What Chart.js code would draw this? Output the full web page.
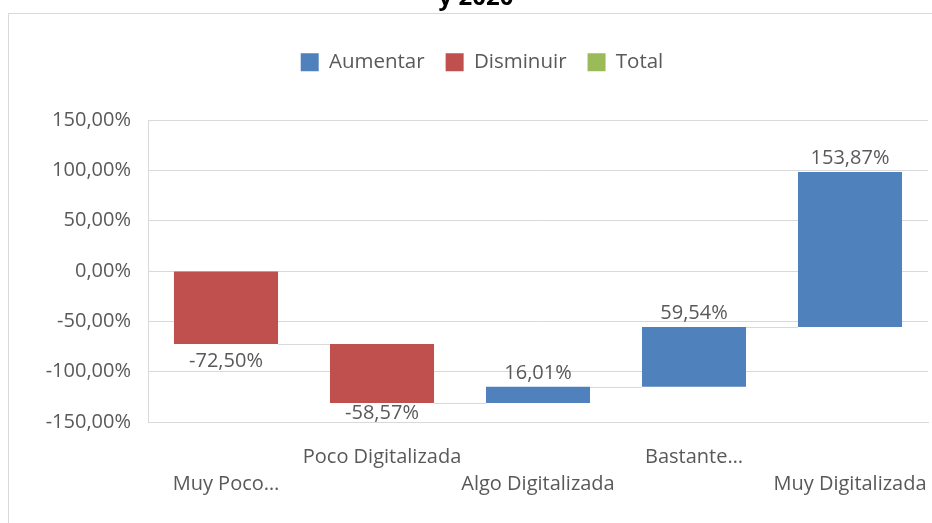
<!DOCTYPE html>
<html>
<head>
<meta charset="utf-8">
<script src="https://cdn.jsdelivr.net/npm/chart.js@4.4.1/dist/chart.umd.min.js"></script>
<style>
html,body{margin:0;padding:0;background:#ffffff;}
#wrap{position:relative;width:932px;height:523px;overflow:hidden;}
canvas{display:block;}
</style>
</head>
<body>
<div id="wrap"><canvas id="c" width="932" height="523"></canvas></div>
<script>
// ---- data ----
const categories = ['Muy Poco…', 'Poco Digitalizada', 'Algo Digitalizada', 'Bastante…', 'Muy Digitalizada'];
const changes = [-72.50, -58.57, 16.01, 59.54, 153.87];
const seriesNames = ['Aumentar', 'Disminuir', 'Total'];
const yTickMin = -150;
const yTickMax = 150;
const yTickStep = 50;
const titleText = 'y 2020';

// ---- derived waterfall ranges ----
const starts = [];
const ends = [];
let running = 0;
changes.forEach(v => { starts.push(running); running += v; ends.push(running); });

const upData = changes.map((v, i) => v >= 0 ? [starts[i], ends[i]] : null);
const downData = changes.map((v, i) => v < 0 ? [starts[i], ends[i]] : null);
const totalData = changes.map(() => null);

const fmt = v => Number(v).toFixed(2).replace('.', ',') + '%';

const xLabels = categories.map((c, i) => i % 2 === 0 ? ['', c] : [c, '']);

const GRID = '#d9d9d9';
const TXT = '#595959';
const FONT = "'Open Sans', 'Noto Sans', sans-serif";

function patchLegend(chart) {
  const lg = chart.legend;
  if (!lg || lg._patched) return;
  const orig = lg.fit;
  lg.fit = function () { orig.call(this); this.height = 89; };
  lg._patched = true;
}

const deco = {
  id: 'deco',
  beforeInit(chart) { patchLegend(chart); },
  beforeUpdate(chart) { patchLegend(chart); },
  beforeDraw(chart) {
    const ctx = chart.ctx;
    ctx.save();
    ctx.strokeStyle = GRID;
    ctx.lineWidth = 1;
    ctx.strokeRect(8.5, 13.5, 1200, 800);
    ctx.fillStyle = '#000000';
    ctx.font = "bold 24px " + FONT;
    ctx.textAlign = 'center';
    ctx.textBaseline = 'alphabetic';
    ctx.fillText(titleText, 476, 5);
    ctx.restore();
  },
  beforeDatasetsDraw(chart) {
    const ctx = chart.ctx;
    const y = chart.scales.y;
    ctx.save();
    ctx.strokeStyle = GRID;
    ctx.lineWidth = 1;
    for (let i = 0; i < changes.length - 1; i++) {
      const a = chart.getDatasetMeta(changes[i] >= 0 ? 0 : 1).data[i];
      const b = chart.getDatasetMeta(changes[i + 1] >= 0 ? 0 : 1).data[i + 1];
      const py = Math.round(y.getPixelForValue(ends[i])) + 0.5;
      ctx.beginPath();
      ctx.moveTo(a.x + a.width / 2, py);
      ctx.lineTo(b.x - b.width / 2, py);
      ctx.stroke();
    }
    ctx.restore();
  },
  afterDatasetsDraw(chart) {
    const ctx = chart.ctx;
    const y = chart.scales.y;
    const area = chart.chartArea;
    ctx.save();
    ctx.fillStyle = TXT;
    ctx.font = "20px " + FONT;
    ctx.textAlign = 'center';
    ctx.textBaseline = 'middle';
    for (let i = 0; i < changes.length; i++) {
      const el = chart.getDatasetMeta(changes[i] >= 0 ? 0 : 1).data[i];
      const pe = y.getPixelForValue(ends[i]);
      let cy;
      if (changes[i] >= 0) cy = pe - 13.5;
      else cy = Math.min(pe + 17, area.bottom - 9);
      ctx.fillText(fmt(changes[i]), el.x, cy);
    }
    ctx.restore();
  }
};

Chart.defaults.font.family = FONT;
Chart.defaults.color = TXT;

new Chart(document.getElementById('c'), {
  type: 'bar',
  data: {
    labels: xLabels,
    datasets: [
      { label: seriesNames[0], data: upData, backgroundColor: '#4f81bd', borderWidth: 0, grouped: false },
      { label: seriesNames[1], data: downData, backgroundColor: '#c0504d', borderWidth: 0, grouped: false },
      { label: seriesNames[2], data: totalData, backgroundColor: '#9bbb59', borderWidth: 0, grouped: false }
    ]
  },
  options: {
    responsive: false,
    animation: false,
    barPercentage: 0.667,
    categoryPercentage: 1,
    layout: { padding: { top: 31, left: 36, right: 4, bottom: 0 } },
    plugins: {
      legend: {
        position: 'top',
        align: 'center',
        labels: { boxWidth: 18, boxHeight: 18, padding: 21, color: TXT, font: { size: 20.5 } }
      },
      title: { display: false },
      tooltip: { enabled: false }
    },
    scales: {
      x: {
        grid: { display: false, drawTicks: false },
        border: { display: true, color: GRID, width: 1 },
        ticks: { color: TXT, font: { size: 20, lineHeight: 1.35 }, padding: 21.5, maxRotation: 0, minRotation: 0, autoSkip: false },
        afterFit(scale) { scale.height = 101; scale.paddingLeft = 0; scale.paddingRight = 0; }
      },
      y: {
        min: yTickMin,
        max: yTickMax,
        ticks: { stepSize: yTickStep, color: TXT, font: { size: 20 }, padding: 17, callback: v => fmt(v) },
        grid: { color: GRID, lineWidth: 1, drawTicks: false },
        border: { display: true, color: GRID, width: 1 },
        afterFit(scale) { scale.width = 112; }
      }
    }
  },
  plugins: [deco]
});
</script>
</body>
</html>
